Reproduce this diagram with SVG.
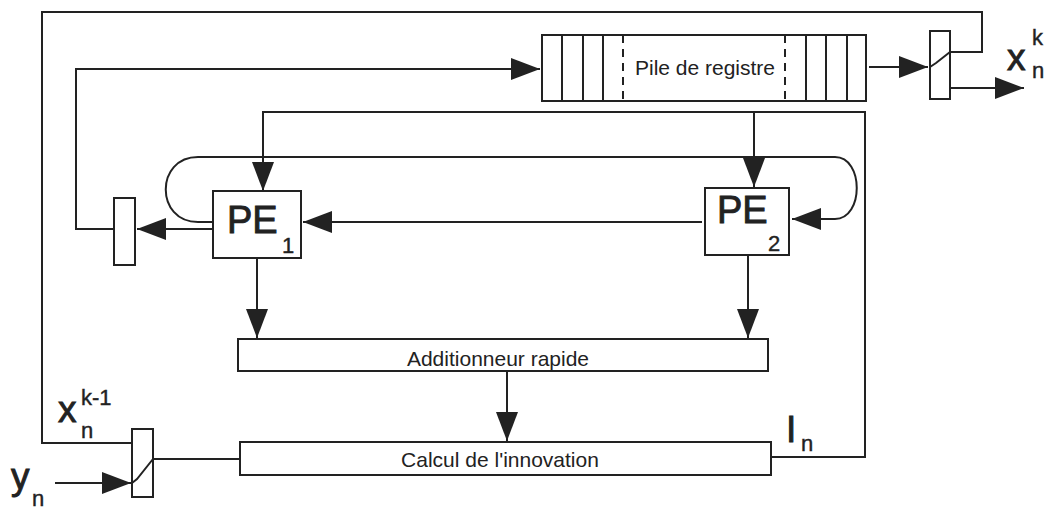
<svg xmlns="http://www.w3.org/2000/svg" width="1049" height="509" viewBox="0 0 1049 509">
<style>
.ln{fill:none;stroke:#222;stroke-width:2}
.bx{fill:#fff;stroke:#222;stroke-width:2}
.ds{fill:none;stroke:#222;stroke-width:2;stroke-dasharray:8,6}
.t{font-family:"Liberation Sans",Arial,sans-serif;fill:#222}
.lbl{font-size:21px}
.big{font-size:37px;stroke:#222;stroke-width:0.9}
.sub{font-size:22px;stroke:#222;stroke-width:0.4}
.pe{font-size:38px;stroke:#222;stroke-width:0.9}
</style>
<defs>
<marker id="ah" markerUnits="userSpaceOnUse" markerWidth="32" markerHeight="24" refX="29" refY="11" orient="auto">
<path d="M0,0 L29,11 L0,22 Z" fill="#222"/>
</marker>
</defs>
<g id="connectors">
<path class="ln" d="M132,443 H42 V12 H982 V52 H950"/>
<path class="ln" d="M114,229 H76 V69 H540" marker-end="url(#ah)"/>
<path class="ln" d="M869,67 H928" marker-end="url(#ah)"/>
<path class="ln" d="M950,88 H1024" marker-end="url(#ah)"/>
<path class="ln" d="M771,457 H865 V112 H263 V191" marker-end="url(#ah)"/>
<path class="ln" d="M754,112 V187" marker-end="url(#ah)"/>
<path class="ln" d="M212,222 H198 C155,222 155,157 198,157 H835 C864,157 864,219 835,219 H792" marker-end="url(#ah)"/>
<path class="ln" d="M702,222 H303" marker-end="url(#ah)"/>
<path class="ln" d="M212,229 H137" marker-end="url(#ah)"/>
<path class="ln" d="M257,258 V338" marker-end="url(#ah)"/>
<path class="ln" d="M748,255 V338" marker-end="url(#ah)"/>
<path class="ln" d="M507,371 V441" marker-end="url(#ah)"/>
<path class="ln" d="M153,459 H240"/>
<path class="ln" d="M55,483 H131" marker-end="url(#ah)"/>
</g>
<g id="register">
<rect class="bx" x="542" y="35" width="324" height="66"/>
<path class="ln" d="M562,35 V101 M583,35 V101 M603,35 V101 M806,35 V101 M826,35 V101 M847,35 V101"/>
<path class="ds" d="M623,35 V101 M785,35 V101"/>
<text class="t" x="705" y="75" font-size="21" text-anchor="middle">Pile de registre</text>
</g>
<g id="switch-out">
<rect class="bx" x="930" y="31" width="20" height="68"/>
<path class="ln" d="M930,67 L936,63 L950,52"/>
</g>
<g id="label-xk">
<text class="t big" x="1007" y="70">x</text>
<text class="t sub" x="1032" y="45">k</text>
<text class="t sub" x="1032" y="78">n</text>
</g>
<g id="pe1">
<rect class="bx" x="213" y="191" width="88" height="67"/>
<text class="t pe" x="227" y="233">PE</text>
<text class="t sub" x="282" y="253" font-size="24">1</text>
</g>
<g id="pe2">
<rect class="bx" x="705" y="188" width="84" height="67"/>
<text class="t pe" x="717" y="223">PE</text>
<text class="t sub" x="768" y="251" font-size="26">2</text>
</g>
<g id="reg-small">
<rect class="bx" x="114" y="198" width="21" height="67"/>
</g>
<g id="adder">
<rect class="bx" x="238" y="339" width="530" height="32"/>
<text class="t lbl" x="498" y="366" text-anchor="middle">Additionneur rapide</text>
</g>
<g id="innovation">
<rect class="bx" x="240" y="442" width="531" height="33"/>
<text class="t lbl" x="500" y="467" text-anchor="middle">Calcul de l'innovation</text>
</g>
<g id="switch-in">
<rect class="bx" x="132" y="429" width="21" height="68"/>
<path class="ln" d="M132,483 L137,479 L153,459"/>
</g>
<g id="label-xk1">
<text class="t big" x="58" y="422">x</text>
<text class="t sub" x="81" y="405" font-size="23">k-1</text>
<text class="t sub" x="81" y="438">n</text>
</g>
<g id="label-yn">
<text class="t big" x="11" y="489">y</text>
<text class="t sub" x="32" y="506">n</text>
</g>
<g id="label-in">
<text class="t big" x="786" y="442">I</text>
<text class="t sub" x="801" y="451">n</text>
</g>
</svg>
